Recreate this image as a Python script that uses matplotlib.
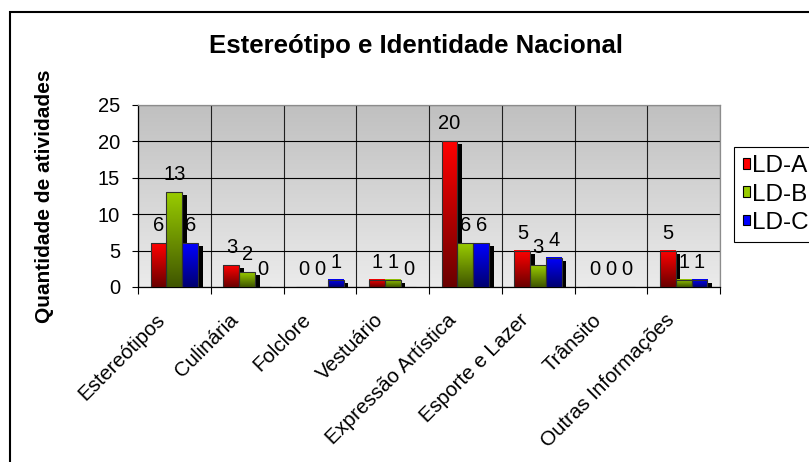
import numpy as np
import matplotlib
matplotlib.use("Agg")
import matplotlib.pyplot as plt
from matplotlib.colors import LinearSegmentedColormap
from matplotlib.patches import Patch, Rectangle
from matplotlib import transforms

plt.rcParams['font.family'] = ['Liberation Sans', 'DejaVu Sans']

# ---- data ----
categories = ["Estereótipos", "Culinária", "Folclore", "Vestuário",
              "Expressão Artística", "Esporte e Lazer", "Trânsito",
              "Outras Informações"]
series_names = ["LD-A", "LD-B", "LD-C"]
ld_a = [6, 3, 0, 1, 20, 5, 0, 5]
ld_b = [13, 2, 0, 1, 6, 3, 0, 1]
ld_c = [6, 0, 1, 0, 6, 4, 0, 1]
yticks = [0, 5, 10, 15, 20, 25]
title = "Estereótipo e Identidade Nacional"
ylabel = "Quantidade de atividades"

series = [ld_a, ld_b, ld_c]
top_colors = ["#ff0000", "#99cc00", "#0000ff"]
bot_colors = ["#6a0000", "#3f5500", "#000070"]

W, H = 809, 462
fig = plt.figure(figsize=(W / 100, H / 100), dpi=100)
ax = fig.add_axes([138 / W, 1 - 287 / H, 582 / W, 182 / H])

# background gradient
bg = np.linspace(0, 1, 256).reshape(-1, 1)
bg_cmap = LinearSegmentedColormap.from_list("bg", ["#ebebeb", "#c0c0c0"])
ax.imshow(bg, extent=[0, 1, 0, 1], transform=ax.transAxes, cmap=bg_cmap,
          origin="lower", aspect="auto", zorder=0, interpolation="bilinear")
ax.patch.set_alpha(0)

n = len(categories)
x = np.arange(n) + 0.5
bw = 0.217

shadow_tr = ax.transData + transforms.ScaledTranslation(4.5 / 100, -3 / 100, fig.dpi_scale_trans)
grad = np.linspace(0, 1, 128).reshape(-1, 1)

for i, vals in enumerate(series):
    pos = x + (i - 1) * bw
    ax.bar(pos, vals, width=bw, color="black", edgecolor="none",
           transform=shadow_tr, zorder=2)
    bars = ax.bar(pos, vals, width=bw, facecolor="none", edgecolor="#303030",
                  linewidth=0.8, zorder=4)
    cmap = LinearSegmentedColormap.from_list("g%d" % i, [bot_colors[i], top_colors[i]])
    for b, v in zip(bars, vals):
        bx, bwid, bh = b.get_x(), b.get_width(), b.get_height()
        if bh > 0:
            ax.imshow(grad, extent=[bx, bx + bwid, 0, bh], cmap=cmap, origin="lower",
                      aspect="auto", zorder=3, interpolation="bilinear")
        ax.annotate(str(v), (bx + bwid / 2, bh), xytext=(0, 8.6),
                    textcoords="offset points", ha="center", va="baseline",
                    fontsize=14.5, color="black", zorder=6)

ax.set_xlim(0, n)
ax.set_ylim(0, 25)
ax.set_xticks(np.arange(n + 1))
ax.set_xticklabels([])
ax.set_yticks(yticks)
ax.set_yticklabels([str(t) for t in yticks], fontsize=14.5)
ax.tick_params(axis="y", direction="out", length=4.3, width=0.8, pad=8.6, colors="black")
ax.tick_params(axis="x", direction="out", length=5, width=0.8, colors="black")

ax.grid(axis="y", color="black", linewidth=0.8, zorder=1)
ax.grid(axis="x", color="#202020", linewidth=0.8, zorder=1)
ax.set_axisbelow(True)

for s in ["left", "bottom"]:
    ax.spines[s].set_color("black")
    ax.spines[s].set_linewidth(0.9)
for s in ["top", "right"]:
    ax.spines[s].set_color("#8c8c8c")
    ax.spines[s].set_linewidth(0.9)

# category labels
lab_tr = ax.get_xaxis_transform() + transforms.ScaledTranslation(-12 / 100, -30 / 100, fig.dpi_scale_trans)
for xi, c in zip(x, categories):
    ax.text(xi, 0, c, transform=lab_tr, rotation=45, rotation_mode="anchor",
            ha="right", va="center", fontsize=14.8, color="black")

# title and y label
fig.text(416 / W, 1 - 52.7 / H, title, ha="center", va="baseline",
         fontsize=18.5, fontweight="bold")
fig.text(50 / W, 1 - 196 / H, ylabel, rotation=90, rotation_mode="anchor",
         ha="center", va="baseline", fontsize=15, fontweight="bold")

# legend
handles = [Patch(facecolor=c, edgecolor="black", linewidth=0.8) for c in top_colors]
leg = ax.legend(handles, series_names, loc="upper left",
                bbox_to_anchor=(734 / W, 1 - 146.7 / H), bbox_transform=fig.transFigure,
                borderaxespad=0, fontsize=17.5, handlelength=0.3, handleheight=0.3,
                handletextpad=0.1, borderpad=0.36, labelspacing=0.25,
                fancybox=False, framealpha=1, edgecolor="black")
leg.get_frame().set_linewidth(0.8)

# chart frame
fig.add_artist(Rectangle((9.5 / W, -0.1), 1.2, 1.1 - 12.5 / H, transform=fig.transFigure,
                         fill=False, edgecolor="black", linewidth=1.5))

fig.savefig("out.png", dpi=100)
